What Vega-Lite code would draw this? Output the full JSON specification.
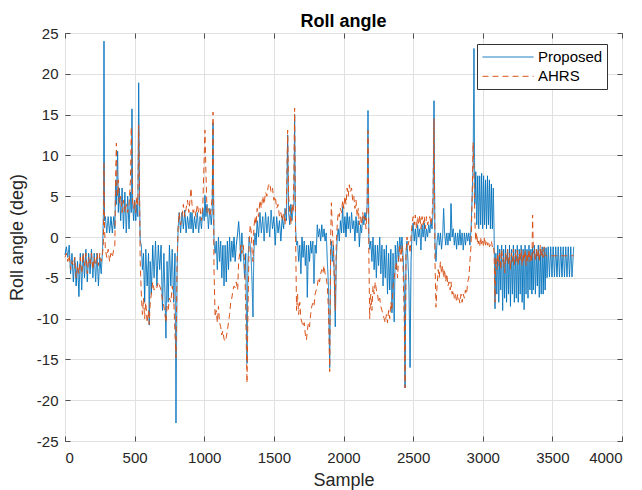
{
"$schema": "https://vega.github.io/schema/vega-lite/v6.json",
"width": 557, "height": 408,
"autosize": {"type": "none"},
"padding": {"left": 65, "top": 33, "right": 20, "bottom": 49},
"background": "white",
"title": {"text": "Roll angle", "font": "Liberation Sans", "fontSize": 18, "fontWeight": "bold", "color": "#000000", "offset": -5, "anchor": "middle"},
"config": {
  "view": {"stroke": "#4d4d4d", "strokeWidth": 1},
  "axis": {"labelFont": "Liberation Sans", "titleFont": "Liberation Sans", "labelFontSize": 15, "titleFontSize": 18, "labelColor": "#262626", "titleColor": "#262626", "titleFontWeight": "normal", "gridColor": "#e0e0e0", "gridWidth": 1, "domain": false, "tickColor": "#4d4d4d", "tickSize": -5}
},
"data": {"values": [
{"s":0,"Proposed":-2.2,"AHRS":-2.5},{"s":10,"Proposed":-1.2,"AHRS":-2},{"s":20,"Proposed":-2.5,"AHRS":-3},{"s":30,"Proposed":-1,"AHRS":-2.2},{"s":40,"Proposed":-4.5,"AHRS":-4},{"s":50,"Proposed":-2,"AHRS":-3},{"s":60,"Proposed":-5.5,"AHRS":-3.5},{"s":70,"Proposed":-2.5,"AHRS":-2.5},{"s":80,"Proposed":-6,"AHRS":-5},{"s":90,"Proposed":-3,"AHRS":-3.5},{"s":100,"Proposed":-7.3,"AHRS":-4.5},{"s":110,"Proposed":-2,"AHRS":-2.5},{"s":120,"Proposed":-6.5,"AHRS":-4.5},{"s":130,"Proposed":-2,"AHRS":-2},{"s":140,"Proposed":-5,"AHRS":-3.5},{"s":150,"Proposed":-1.5,"AHRS":-2},{"s":160,"Proposed":-5.5,"AHRS":-4.5},{"s":170,"Proposed":-2,"AHRS":-2.5},{"s":180,"Proposed":-4.5,"AHRS":-3.5},{"s":190,"Proposed":-1.5,"AHRS":-2},{"s":200,"Proposed":-5,"AHRS":-4},{"s":210,"Proposed":-2,"AHRS":-2.5},{"s":220,"Proposed":-5.5,"AHRS":-3.5},{"s":230,"Proposed":-2,"AHRS":-2},{"s":240,"Proposed":-6,"AHRS":-3.5},{"s":250,"Proposed":-2.5,"AHRS":-2},{"s":260,"Proposed":-4.5,"AHRS":-3},{"s":270,"Proposed":-1.5,"AHRS":-2},
{"s":276,"Proposed":3,"AHRS":-0.5},{"s":280,"Proposed":24,"AHRS":9},{"s":284,"Proposed":2,"AHRS":1},{"s":290,"Proposed":2.5,"AHRS":-1.5},{"s":300,"Proposed":0.5,"AHRS":-2.5},{"s":310,"Proposed":2.5,"AHRS":-1.5},{"s":320,"Proposed":0.5,"AHRS":-3},{"s":330,"Proposed":2.5,"AHRS":-2},{"s":340,"Proposed":0.5,"AHRS":-2.5},{"s":350,"Proposed":2.5,"AHRS":-1.5},{"s":358,"Proposed":1,"AHRS":-1},{"s":364,"Proposed":7,"AHRS":8},{"s":369,"Proposed":4,"AHRS":11.5},{"s":374,"Proposed":8.5,"AHRS":6},{"s":378,"Proposed":10.5,"AHRS":5},{"s":383,"Proposed":3,"AHRS":7},{"s":390,"Proposed":6,"AHRS":4},{"s":400,"Proposed":2,"AHRS":5},{"s":410,"Proposed":6,"AHRS":3},{"s":420,"Proposed":1,"AHRS":4.5},{"s":430,"Proposed":5.5,"AHRS":3},{"s":440,"Proposed":0.5,"AHRS":4},{"s":450,"Proposed":5,"AHRS":3},{"s":460,"Proposed":1,"AHRS":4},{"s":470,"Proposed":5.5,"AHRS":7},{"s":476,"Proposed":3,"AHRS":13.5},{"s":481,"Proposed":15.7,"AHRS":9},{"s":486,"Proposed":4,"AHRS":4},{"s":493,"Proposed":2,"AHRS":3.5},{"s":500,"Proposed":4.5,"AHRS":4.5},{"s":508,"Proposed":2,"AHRS":3},{"s":516,"Proposed":4,"AHRS":5},{"s":523,"Proposed":2.5,"AHRS":4},{"s":529,"Proposed":18.9,"AHRS":13.7},{"s":535,"Proposed":5,"AHRS":6},
{"s":540,"Proposed":-0.5,"AHRS":-3},{"s":548,"Proposed":-1,"AHRS":-7},{"s":556,"Proposed":-4,"AHRS":-9.5},{"s":564,"Proposed":-2,"AHRS":-7.5},{"s":572,"Proposed":-8,"AHRS":-10},{"s":580,"Proposed":-1.5,"AHRS":-8},{"s":590,"Proposed":-6,"AHRS":-10.5},{"s":600,"Proposed":-2,"AHRS":-9},{"s":605,"Proposed":-10.8,"AHRS":-10.7},{"s":612,"Proposed":-3,"AHRS":-8},{"s":620,"Proposed":-7,"AHRS":-7},{"s":630,"Proposed":-1,"AHRS":-5.5},{"s":640,"Proposed":-5,"AHRS":-6.5},{"s":650,"Proposed":-0.5,"AHRS":-6},{"s":660,"Proposed":-6,"AHRS":-6.2},{"s":670,"Proposed":-1,"AHRS":-5.5},{"s":680,"Proposed":-4,"AHRS":-6},{"s":690,"Proposed":-1,"AHRS":-6.5},{"s":700,"Proposed":-9,"AHRS":-7.8},{"s":710,"Proposed":-2,"AHRS":-8.5},{"s":718,"Proposed":-7,"AHRS":-9.5},{"s":725,"Proposed":-12.4,"AHRS":-10.5},{"s":733,"Proposed":-3,"AHRS":-8.5},{"s":741,"Proposed":-8,"AHRS":-9},{"s":750,"Proposed":-1,"AHRS":-7.5},{"s":760,"Proposed":-6,"AHRS":-8},{"s":770,"Proposed":-1.5,"AHRS":-6},{"s":780,"Proposed":-8,"AHRS":-7},{"s":790,"Proposed":-2,"AHRS":-12},{"s":797,"Proposed":-22.8,"AHRS":-14.8},{"s":805,"Proposed":-4,"AHRS":-3},
{"s":812,"Proposed":1,"AHRS":1},{"s":820,"Proposed":3,"AHRS":3},{"s":830,"Proposed":0.5,"AHRS":1.5},{"s":840,"Proposed":3,"AHRS":2.5},{"s":850,"Proposed":1,"AHRS":4},{"s":860,"Proposed":3.3,"AHRS":2.5},{"s":870,"Proposed":0.5,"AHRS":3.5},{"s":880,"Proposed":2.5,"AHRS":4.5},{"s":890,"Proposed":1,"AHRS":3},{"s":900,"Proposed":3,"AHRS":5},{"s":905,"Proposed":1,"AHRS":6},{"s":912,"Proposed":3,"AHRS":4},{"s":920,"Proposed":0.5,"AHRS":3},{"s":930,"Proposed":2.5,"AHRS":3.5},{"s":940,"Proposed":1,"AHRS":2.5},{"s":950,"Proposed":3,"AHRS":4},{"s":960,"Proposed":0.5,"AHRS":3},{"s":970,"Proposed":2.5,"AHRS":3.5},{"s":980,"Proposed":1,"AHRS":2},{"s":990,"Proposed":3.5,"AHRS":4},{"s":1000,"Proposed":2,"AHRS":10},{"s":1005,"Proposed":5.1,"AHRS":13.1},{"s":1012,"Proposed":2.5,"AHRS":8},{"s":1020,"Proposed":4,"AHRS":3},{"s":1030,"Proposed":1,"AHRS":3.5},{"s":1040,"Proposed":3.5,"AHRS":2.5},{"s":1050,"Proposed":1.5,"AHRS":3.5},{"s":1057,"Proposed":3,"AHRS":5},{"s":1063,"Proposed":14,"AHRS":15.3},
{"s":1070,"Proposed":-0.5,"AHRS":-4},{"s":1078,"Proposed":-2,"AHRS":-9.8},{"s":1086,"Proposed":-0.5,"AHRS":-9},{"s":1094,"Proposed":-4,"AHRS":-10.5},{"s":1102,"Proposed":0,"AHRS":-8.5},{"s":1110,"Proposed":-3,"AHRS":-10.5},{"s":1118,"Proposed":-0.5,"AHRS":-11},{"s":1126,"Proposed":-5,"AHRS":-12},{"s":1134,"Proposed":-1,"AHRS":-11.5},{"s":1142,"Proposed":-6,"AHRS":-12.5},{"s":1150,"Proposed":-1,"AHRS":-12.8},{"s":1158,"Proposed":-5.5,"AHRS":-12.3},{"s":1166,"Proposed":-0.5,"AHRS":-11.5},{"s":1174,"Proposed":-4,"AHRS":-10.5},{"s":1182,"Proposed":0,"AHRS":-9.5},{"s":1190,"Proposed":-3,"AHRS":-8},{"s":1198,"Proposed":-0.5,"AHRS":-7.5},{"s":1206,"Proposed":-2.5,"AHRS":-6.5},{"s":1214,"Proposed":0,"AHRS":-6},{"s":1222,"Proposed":-3,"AHRS":-6.2},{"s":1230,"Proposed":-1,"AHRS":-5.5},{"s":1240,"Proposed":0.5,"AHRS":-6.5},{"s":1247,"Proposed":1.9,"AHRS":-3},{"s":1255,"Proposed":0,"AHRS":-2},{"s":1262,"Proposed":-3,"AHRS":-1},{"s":1270,"Proposed":0.5,"AHRS":-2},{"s":1280,"Proposed":-2,"AHRS":-1},{"s":1290,"Proposed":-5,"AHRS":-3},{"s":1298,"Proposed":-2,"AHRS":-9},{"s":1307,"Proposed":-15.5,"AHRS":-17.9},{"s":1314,"Proposed":-3,"AHRS":-9},{"s":1322,"Proposed":0,"AHRS":-1},{"s":1330,"Proposed":-1,"AHRS":1.5},{"s":1338,"Proposed":-3,"AHRS":0.5},{"s":1344,"Proposed":-6,"AHRS":-2},{"s":1350,"Proposed":-9.8,"AHRS":-3},{"s":1356,"Proposed":-2,"AHRS":1},
{"s":1364,"Proposed":0.5,"AHRS":2.5},{"s":1372,"Proposed":-1,"AHRS":1.5},{"s":1380,"Proposed":2,"AHRS":3.5},{"s":1390,"Proposed":0,"AHRS":2.5},{"s":1400,"Proposed":3,"AHRS":4.5},{"s":1410,"Proposed":0.5,"AHRS":3.5},{"s":1420,"Proposed":2.5,"AHRS":5},{"s":1430,"Proposed":-0.5,"AHRS":4},{"s":1440,"Proposed":3,"AHRS":5.5},{"s":1450,"Proposed":0.5,"AHRS":5},{"s":1460,"Proposed":2.5,"AHRS":6.3},{"s":1470,"Proposed":0,"AHRS":6.6},{"s":1480,"Proposed":3.3,"AHRS":5.5},{"s":1490,"Proposed":1,"AHRS":6},{"s":1500,"Proposed":2.5,"AHRS":4.5},{"s":1510,"Proposed":-1,"AHRS":5},{"s":1520,"Proposed":2.5,"AHRS":3.5},{"s":1530,"Proposed":0.5,"AHRS":4},{"s":1540,"Proposed":2,"AHRS":2.5},{"s":1550,"Proposed":-0.5,"AHRS":3},{"s":1560,"Proposed":2.5,"AHRS":2},{"s":1570,"Proposed":1,"AHRS":3},{"s":1580,"Proposed":3.5,"AHRS":1.5},{"s":1590,"Proposed":2,"AHRS":4},{"s":1599,"Proposed":12.5,"AHRS":13.1},{"s":1606,"Proposed":3,"AHRS":5},{"s":1614,"Proposed":1.5,"AHRS":3},{"s":1622,"Proposed":4,"AHRS":1.5},{"s":1630,"Proposed":2,"AHRS":4},{"s":1638,"Proposed":3.5,"AHRS":3},{"s":1644,"Proposed":4,"AHRS":8},{"s":1649,"Proposed":15,"AHRS":15.8},{"s":1656,"Proposed":1,"AHRS":0},
{"s":1663,"Proposed":-1,"AHRS":-9},{"s":1670,"Proposed":-0.5,"AHRS":-7},{"s":1678,"Proposed":-3,"AHRS":-9.5},{"s":1686,"Proposed":-1,"AHRS":-8},{"s":1694,"Proposed":-4.5,"AHRS":-10},{"s":1702,"Proposed":0,"AHRS":-10.5},{"s":1710,"Proposed":-2.5,"AHRS":-11},{"s":1718,"Proposed":-0.5,"AHRS":-10.5},{"s":1726,"Proposed":-3.5,"AHRS":-12},{"s":1734,"Proposed":-1,"AHRS":-12.6},{"s":1740,"Proposed":-7.4,"AHRS":-11.5},{"s":1748,"Proposed":-1,"AHRS":-10.5},{"s":1756,"Proposed":-3,"AHRS":-11},{"s":1764,"Proposed":-0.5,"AHRS":-9.5},{"s":1772,"Proposed":-2,"AHRS":-8.5},{"s":1780,"Proposed":-0.5,"AHRS":-8.1},{"s":1788,"Proposed":-5.7,"AHRS":-8.5},{"s":1796,"Proposed":-1,"AHRS":-7},{"s":1804,"Proposed":-2,"AHRS":-6.5},{"s":1812,"Proposed":1.5,"AHRS":-6},{"s":1820,"Proposed":0,"AHRS":-5},{"s":1828,"Proposed":1,"AHRS":-5.5},{"s":1836,"Proposed":-0.5,"AHRS":-4.5},{"s":1844,"Proposed":1.5,"AHRS":-4},{"s":1852,"Proposed":0,"AHRS":-4.5},{"s":1860,"Proposed":1,"AHRS":-3.5},{"s":1868,"Proposed":-0.5,"AHRS":-4.5},{"s":1876,"Proposed":0.5,"AHRS":-5},{"s":1884,"Proposed":-3,"AHRS":-6},{"s":1892,"Proposed":-6,"AHRS":-9},{"s":1901,"Proposed":-16,"AHRS":-16.5},{"s":1908,"Proposed":-2,"AHRS":0},{"s":1913,"Proposed":-0.5,"AHRS":4.2},{"s":1920,"Proposed":-3,"AHRS":1},{"s":1928,"Proposed":-1,"AHRS":-2},{"s":1934,"Proposed":-5,"AHRS":-5},{"s":1941,"Proposed":-11,"AHRS":-9},{"s":1948,"Proposed":-3,"AHRS":-1},
{"s":1955,"Proposed":0,"AHRS":1.5},{"s":1962,"Proposed":1,"AHRS":3},{"s":1970,"Proposed":-0.5,"AHRS":2.5},{"s":1978,"Proposed":2,"AHRS":3.5},{"s":1986,"Proposed":0.5,"AHRS":3},{"s":1994,"Proposed":3.7,"AHRS":4.5},{"s":2002,"Proposed":0.5,"AHRS":3.5},{"s":2010,"Proposed":2.5,"AHRS":5},{"s":2018,"Proposed":0,"AHRS":4},{"s":2026,"Proposed":3,"AHRS":6},{"s":2034,"Proposed":1,"AHRS":5},{"s":2042,"Proposed":2.5,"AHRS":6.4},{"s":2050,"Proposed":0.5,"AHRS":5.5},{"s":2058,"Proposed":3,"AHRS":6},{"s":2066,"Proposed":1,"AHRS":4.5},{"s":2074,"Proposed":2,"AHRS":5},{"s":2082,"Proposed":-0.5,"AHRS":3.5},{"s":2090,"Proposed":2.5,"AHRS":4.5},{"s":2098,"Proposed":0.5,"AHRS":2.5},{"s":2106,"Proposed":2,"AHRS":3.5},{"s":2114,"Proposed":-1.2,"AHRS":1.5},{"s":2122,"Proposed":1.5,"AHRS":2.5},{"s":2130,"Proposed":0.5,"AHRS":1.5},{"s":2138,"Proposed":2.5,"AHRS":3},{"s":2146,"Proposed":1.5,"AHRS":2},{"s":2154,"Proposed":3,"AHRS":2.5},{"s":2162,"Proposed":2,"AHRS":1},{"s":2170,"Proposed":4,"AHRS":4},{"s":2176,"Proposed":15.5,"AHRS":13},
{"s":2182,"Proposed":0,"AHRS":-2},{"s":2188,"Proposed":-1.5,"AHRS":-10},{"s":2196,"Proposed":-0.5,"AHRS":-7},{"s":2204,"Proposed":-3,"AHRS":-9},{"s":2212,"Proposed":0,"AHRS":-6},{"s":2220,"Proposed":-4,"AHRS":-7},{"s":2228,"Proposed":-1,"AHRS":-5.5},{"s":2236,"Proposed":-5,"AHRS":-6.5},{"s":2244,"Proposed":-1,"AHRS":-7},{"s":2252,"Proposed":-3.5,"AHRS":-8},{"s":2260,"Proposed":0,"AHRS":-7.5},{"s":2268,"Proposed":-4.5,"AHRS":-8.5},{"s":2276,"Proposed":-1,"AHRS":-9},{"s":2284,"Proposed":-6,"AHRS":-9.5},{"s":2292,"Proposed":-1.5,"AHRS":-10},{"s":2300,"Proposed":-5,"AHRS":-10.5},{"s":2308,"Proposed":-1,"AHRS":-9.5},{"s":2316,"Proposed":-7,"AHRS":-10.5},{"s":2324,"Proposed":-2,"AHRS":-9},{"s":2332,"Proposed":-6.5,"AHRS":-10},{"s":2340,"Proposed":-1.5,"AHRS":-8},{"s":2348,"Proposed":-9.3,"AHRS":-9},{"s":2356,"Proposed":-2,"AHRS":-6},{"s":2364,"Proposed":-10.4,"AHRS":-5},{"s":2372,"Proposed":-1,"AHRS":-4},{"s":2380,"Proposed":-4,"AHRS":-3},{"s":2388,"Proposed":-0.5,"AHRS":-5},{"s":2396,"Proposed":-3,"AHRS":-2.5},{"s":2404,"Proposed":0,"AHRS":-1},{"s":2412,"Proposed":-1.5,"AHRS":-3},{"s":2420,"Proposed":0,"AHRS":-1},{"s":2428,"Proposed":-2.5,"AHRS":-4},{"s":2436,"Proposed":-6,"AHRS":-10},{"s":2442,"Proposed":-18.5,"AHRS":-18.5},{"s":2449,"Proposed":-2,"AHRS":-2},{"s":2456,"Proposed":-0.5,"AHRS":0},{"s":2463,"Proposed":-3,"AHRS":-1},{"s":2470,"Proposed":-6,"AHRS":-0.5},{"s":2478,"Proposed":-16,"AHRS":-2},{"s":2485,"Proposed":-3,"AHRS":0},
{"s":2492,"Proposed":0.5,"AHRS":1.5},{"s":2500,"Proposed":1.7,"AHRS":2.5},{"s":2508,"Proposed":-0.5,"AHRS":1.5},{"s":2516,"Proposed":1,"AHRS":2.7},{"s":2524,"Proposed":-1,"AHRS":1},{"s":2532,"Proposed":1.5,"AHRS":2.5},{"s":2540,"Proposed":0,"AHRS":1.5},{"s":2548,"Proposed":1,"AHRS":2.7},{"s":2556,"Proposed":-1.6,"AHRS":1},{"s":2564,"Proposed":1.5,"AHRS":2.5},{"s":2572,"Proposed":0,"AHRS":1.5},{"s":2580,"Proposed":1.7,"AHRS":2.5},{"s":2588,"Proposed":-0.5,"AHRS":1},{"s":2596,"Proposed":1,"AHRS":2.5},{"s":2604,"Proposed":0,"AHRS":1.5},{"s":2612,"Proposed":1.5,"AHRS":2},{"s":2620,"Proposed":0.5,"AHRS":2.5},{"s":2628,"Proposed":2,"AHRS":1.5},{"s":2636,"Proposed":1,"AHRS":2.5},{"s":2643,"Proposed":3,"AHRS":5},{"s":2650,"Proposed":16.7,"AHRS":14.5},
{"s":2657,"Proposed":-1,"AHRS":-3},{"s":2664,"Proposed":-3,"AHRS":-8.6},{"s":2672,"Proposed":-0.5,"AHRS":-6},{"s":2680,"Proposed":0.5,"AHRS":-4},{"s":2688,"Proposed":-1,"AHRS":-5},{"s":2696,"Proposed":0.5,"AHRS":-3},{"s":2704,"Proposed":-1.5,"AHRS":-4.5},{"s":2712,"Proposed":0,"AHRS":-3.5},{"s":2719,"Proposed":3.5,"AHRS":-5},{"s":2726,"Proposed":0.5,"AHRS":-4},{"s":2734,"Proposed":-1,"AHRS":-5.5},{"s":2742,"Proposed":0.5,"AHRS":-4.5},{"s":2750,"Proposed":-1,"AHRS":-6},{"s":2758,"Proposed":0.5,"AHRS":-5.5},{"s":2766,"Proposed":-0.5,"AHRS":-6.5},{"s":2772,"Proposed":4.1,"AHRS":-5.5},{"s":2780,"Proposed":0,"AHRS":-7},{"s":2788,"Proposed":1,"AHRS":-6.5},{"s":2796,"Proposed":-1,"AHRS":-7.5},{"s":2804,"Proposed":0.5,"AHRS":-7},{"s":2812,"Proposed":-1.5,"AHRS":-8},{"s":2820,"Proposed":0.5,"AHRS":-7},{"s":2828,"Proposed":-1,"AHRS":-7.5},{"s":2836,"Proposed":0.9,"AHRS":-8.1},{"s":2844,"Proposed":-1,"AHRS":-7},{"s":2852,"Proposed":0.5,"AHRS":-8},{"s":2860,"Proposed":-1.6,"AHRS":-7},{"s":2868,"Proposed":0.5,"AHRS":-7.5},{"s":2876,"Proposed":-1,"AHRS":-6.5},{"s":2884,"Proposed":0.5,"AHRS":-7},{"s":2892,"Proposed":-0.5,"AHRS":-5.5},{"s":2900,"Proposed":0.5,"AHRS":-5},{"s":2908,"Proposed":-1,"AHRS":-3},{"s":2916,"Proposed":1,"AHRS":-1},{"s":2924,"Proposed":5,"AHRS":5},{"s":2931,"Proposed":9,"AHRS":11.6},{"s":2937,"Proposed":23.1,"AHRS":8},{"s":2943,"Proposed":4,"AHRS":2},
{"s":2950,"Proposed":8,"AHRS":-0.5},{"s":2957,"Proposed":1.5,"AHRS":0.5},{"s":2964,"Proposed":7.5,"AHRS":-1},{"s":2971,"Proposed":1,"AHRS":-0.5},{"s":2978,"Proposed":7.5,"AHRS":-1.2},{"s":2985,"Proposed":1.5,"AHRS":0},{"s":2992,"Proposed":7.8,"AHRS":-1},{"s":2999,"Proposed":1,"AHRS":-0.5},{"s":3006,"Proposed":7.5,"AHRS":-1.2},{"s":3013,"Proposed":1.5,"AHRS":0},{"s":3020,"Proposed":7,"AHRS":-1},{"s":3027,"Proposed":1,"AHRS":-0.5},{"s":3034,"Proposed":7.5,"AHRS":-1},{"s":3041,"Proposed":1.5,"AHRS":-0.5},{"s":3048,"Proposed":7,"AHRS":-1.2},{"s":3055,"Proposed":1,"AHRS":-1},{"s":3062,"Proposed":6.5,"AHRS":-0.5},{"s":3069,"Proposed":1,"AHRS":-1.2},{"s":3076,"Proposed":6,"AHRS":-1},{"s":3082,"Proposed":0,"AHRS":-2},
{"s":3088,"Proposed":-8.8,"AHRS":-8},{"s":3094,"Proposed":-2,"AHRS":-2.5},{"s":3101,"Proposed":-7,"AHRS":-4},{"s":3108,"Proposed":-1,"AHRS":-2},{"s":3115,"Proposed":-8,"AHRS":-3.5},{"s":3122,"Proposed":-1.5,"AHRS":-2},{"s":3129,"Proposed":-6.5,"AHRS":-4},{"s":3136,"Proposed":-1,"AHRS":-1.5},{"s":3143,"Proposed":-9,"AHRS":-3},{"s":3150,"Proposed":-1.5,"AHRS":-2.5},{"s":3157,"Proposed":-7.5,"AHRS":-4.4},{"s":3164,"Proposed":-1,"AHRS":-2},{"s":3171,"Proposed":-8,"AHRS":-3},{"s":3178,"Proposed":-1.5,"AHRS":-1.5},{"s":3185,"Proposed":-7,"AHRS":-3.5},{"s":3192,"Proposed":-1,"AHRS":-2},{"s":3199,"Proposed":-8.5,"AHRS":-4},{"s":3206,"Proposed":-1.5,"AHRS":-2},{"s":3213,"Proposed":-7,"AHRS":-3},{"s":3220,"Proposed":-1,"AHRS":-1.5},{"s":3227,"Proposed":-8,"AHRS":-3.5},{"s":3234,"Proposed":-1.5,"AHRS":-2},{"s":3241,"Proposed":-7.5,"AHRS":-3},{"s":3248,"Proposed":-1,"AHRS":-1.6},{"s":3255,"Proposed":-8,"AHRS":-3.5},{"s":3262,"Proposed":-1.5,"AHRS":-2},{"s":3269,"Proposed":-7,"AHRS":-3},{"s":3276,"Proposed":-1,"AHRS":-1.5},{"s":3283,"Proposed":-8,"AHRS":-3.5},{"s":3290,"Proposed":-1.5,"AHRS":-2},{"s":3297,"Proposed":-8.9,"AHRS":-3},{"s":3304,"Proposed":-1,"AHRS":-1.5},{"s":3311,"Proposed":-7,"AHRS":-3.5},{"s":3318,"Proposed":-1.5,"AHRS":-2},{"s":3325,"Proposed":-7.5,"AHRS":-3},{"s":3332,"Proposed":-1,"AHRS":-1.5},{"s":3339,"Proposed":-6.5,"AHRS":-3},{"s":3346,"Proposed":-1.5,"AHRS":-2},{"s":3353,"Proposed":-7,"AHRS":-3},{"s":3358,"Proposed":-1.2,"AHRS":2.7},{"s":3364,"Proposed":-6.5,"AHRS":-2},{"s":3371,"Proposed":-1,"AHRS":-1.5},{"s":3378,"Proposed":-7,"AHRS":-3},{"s":3385,"Proposed":-1.5,"AHRS":-1.5},{"s":3392,"Proposed":-6,"AHRS":-2.5},{"s":3399,"Proposed":-1,"AHRS":-1.5},{"s":3406,"Proposed":-7.4,"AHRS":-3},{"s":3413,"Proposed":-1.5,"AHRS":-1},{"s":3420,"Proposed":-7,"AHRS":-2.5},{"s":3427,"Proposed":-1.2,"AHRS":-1.5},{"s":3434,"Proposed":-7,"AHRS":-2.5},{"s":3441,"Proposed":-1.3,"AHRS":-1.2},{"s":3448,"Proposed":-6.5,"AHRS":-2.3},{"s":3455,"Proposed":-1.3,"AHRS":-2.3},{"s":3462,"Proposed":-5,"AHRS":-2.3},
{"s":3470,"Proposed":-1.2,"AHRS":-2.3},{"s":3479,"Proposed":-4.9,"AHRS":-2.3},{"s":3488,"Proposed":-1.2,"AHRS":-2.3},{"s":3497,"Proposed":-4.9,"AHRS":-2.3},{"s":3506,"Proposed":-1.2,"AHRS":-2.3},{"s":3515,"Proposed":-4.9,"AHRS":-2.3},{"s":3524,"Proposed":-1.2,"AHRS":-2.3},{"s":3533,"Proposed":-4.9,"AHRS":-2.3},{"s":3542,"Proposed":-1.2,"AHRS":-2.3},{"s":3551,"Proposed":-4.9,"AHRS":-2.3},{"s":3560,"Proposed":-1.2,"AHRS":-2.3},{"s":3569,"Proposed":-4.9,"AHRS":-2.3},{"s":3578,"Proposed":-1.2,"AHRS":-2.3},{"s":3587,"Proposed":-4.9,"AHRS":-2.3},{"s":3596,"Proposed":-1.2,"AHRS":-2.3},{"s":3605,"Proposed":-4.9,"AHRS":-2.3},{"s":3614,"Proposed":-1.2,"AHRS":-2.3},{"s":3623,"Proposed":-4.9,"AHRS":-2.3},{"s":3632,"Proposed":-1.2,"AHRS":-2.3},{"s":3641,"Proposed":-4.9,"AHRS":-2.3},{"s":3653,"Proposed":-1.2,"AHRS":-2.3}
]},
"transform": [{"fold": ["Proposed", "AHRS"], "as": ["series", "angle"]}],
"layer": [
  {
    "transform": [{"filter": "datum.series === 'Proposed'"}],
    "mark": {"type": "line", "strokeWidth": 1},
    "encoding": {
      "x": {"field": "s", "type": "quantitative", "scale": {"domain": [0, 4000], "nice": false},
        "axis": {"orient": "bottom", "values": [0,500,1000,1500,2000,2500,3000,3500,4000], "title": "Sample", "grid": true, "labelPadding": 14, "titlePadding": 6, "labelExpr": "toString(datum.value)"}},
      "y": {"field": "angle", "type": "quantitative", "scale": {"domain": [-25, 25], "nice": false},
        "axis": {"orient": "left", "values": [-25,-20,-15,-10,-5,0,5,10,15,20,25], "title": "Roll angle (deg)", "grid": true, "labelPadding": 12, "titlePadding": 10, "labelExpr": "toString(datum.value)"}},
      "color": {"field": "series", "type": "nominal", "scale": {"domain": ["Proposed", "AHRS"], "range": ["#0072BD", "#D95319"]},
        "legend": {"title": null, "orient": "none", "legendX": 412, "legendY": 11, "symbolType": "M-3,0H3", "symbolSize": 289, "symbolOffset": 18, "symbolStrokeWidth": 1, "labelFont": "Liberation Sans", "labelFontSize": 15, "labelColor": "#000000", "strokeColor": "#333333", "fillColor": "white", "padding": 4, "rowPadding": 2.3, "labelOffset": 21}},
      "strokeDash": {"field": "series", "type": "nominal", "scale": {"domain": ["Proposed", "AHRS"], "range": [[1, 0], [6, 4]]},
        "legend": {"title": null, "orient": "none", "legendX": 412, "legendY": 11, "symbolType": "M-3,0H3", "symbolSize": 289, "symbolOffset": 18, "symbolStrokeWidth": 1, "labelFont": "Liberation Sans", "labelFontSize": 15, "labelColor": "#000000", "strokeColor": "#333333", "fillColor": "white", "padding": 4, "rowPadding": 2.3, "labelOffset": 21}}
    }
  },
  {
    "transform": [{"filter": "datum.series === 'AHRS'"}],
    "mark": {"type": "line", "strokeWidth": 1},
    "encoding": {
      "x": {"field": "s", "type": "quantitative", "scale": {"domain": [0, 4000], "nice": false},
        "axis": {"orient": "top", "values": [0,500,1000,1500,2000,2500,3000,3500,4000], "title": null, "grid": false, "labels": false}},
      "y": {"field": "angle", "type": "quantitative", "scale": {"domain": [-25, 25], "nice": false},
        "axis": {"orient": "right", "values": [-25,-20,-15,-10,-5,0,5,10,15,20,25], "title": null, "grid": false, "labels": false}},
      "color": {"field": "series", "type": "nominal", "scale": {"domain": ["Proposed", "AHRS"], "range": ["#0072BD", "#D95319"]}},
      "strokeDash": {"field": "series", "type": "nominal", "scale": {"domain": ["Proposed", "AHRS"], "range": [[1, 0], [6, 4]]}}
    }
  }
],
"resolve": {"axis": {"x": "independent", "y": "independent"}}
}
